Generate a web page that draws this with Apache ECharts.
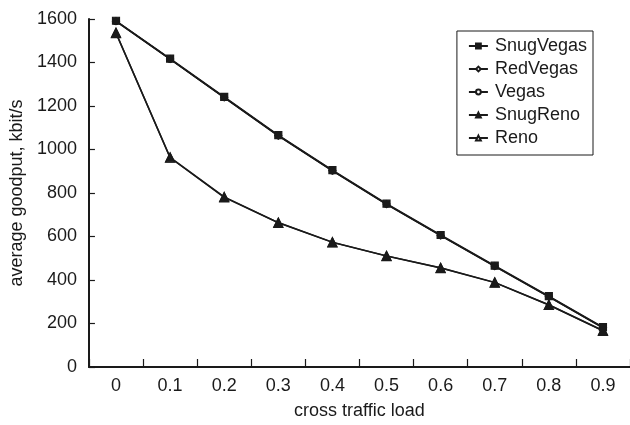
<!DOCTYPE html>
<html>
<head>
<meta charset="utf-8">
<script src="https://cdn.jsdelivr.net/npm/echarts@6/dist/echarts.min.js"></script>
<style>
  html, body { margin: 0; padding: 0; background: #fff; }
  #chart { width: 630px; height: 425px; }
</style>
</head>
<body>
<div id="chart"></div>
<script>
// cross traffic load (categories)
const loads = ['0', '0.1', '0.2', '0.3', '0.4', '0.5', '0.6', '0.7', '0.8', '0.9']

// average goodput, kbit/s
const snugVegas = [1592, 1418, 1242, 1066, 905, 751, 607, 466, 326, 183]
const redVegas  = [1590, 1416, 1240, 1064, 903, 749, 605, 464, 324, 181]
const vegas     = [1589, 1415, 1239, 1063, 902, 748, 604, 463, 323, 180]
const snugReno  = [1537, 964, 782, 664, 574, 511, 456, 389, 286, 168]
const reno      = [1535, 962, 780, 663, 573, 510, 455, 388, 285, 166]

const yTicks = [0, 200, 400, 600, 800, 1000, 1200, 1400, 1600]

const font = 'Liberation Sans, Arial, Helvetica, sans-serif'
const ink = '#1a1a1a'

var myChart = echarts.init(document.getElementById('chart'))

function line(name, data, symbol, filled, size, z) {
  return {
    name: name,
    type: 'line',
    data: data,
    symbol: symbol,
    symbolSize: size,
    showSymbol: true,
    z: z,
    lineStyle: { color: ink, width: 1.5 },
    itemStyle: {
      color: filled ? ink : '#fff',
      borderColor: ink,
      borderWidth: 1.2
    },
    emphasis: { disabled: true }
  }
}

var option = {
  animation: false,
  backgroundColor: '#fff',
  textStyle: { fontFamily: font },
  grid: { left: 86, right: 0, top: 19, bottom: 52, containLabel: false },
  legend: {
    orient: 'vertical',
    right: 37,
    top: 31,
    padding: [6, 6, 8, 11],
    itemGap: 5,
    itemWidth: 19,
    itemHeight: 6,
    borderColor: ink,
    borderWidth: 1,
    borderRadius: 0,
    textStyle: { fontSize: 18, color: ink, fontFamily: font, padding: [0, 0, 0, 2] },
    data: ['SnugVegas', 'RedVegas', 'Vegas', 'SnugReno', 'Reno']
  },
  xAxis: {
    type: 'category',
    data: loads,
    boundaryGap: true,
    name: 'cross traffic load',
    nameLocation: 'middle',
    nameGap: 35,
    nameTextStyle: { fontSize: 18, color: ink },
    axisLine: { lineStyle: { color: ink, width: 2 } },
    axisTick: { show: true, inside: true, length: 8, lineStyle: { color: ink, width: 1.2 } },
    axisLabel: { fontSize: 18, color: ink, margin: 10 },
    splitLine: { show: false }
  },
  yAxis: {
    type: 'value',
    min: 0,
    max: 1600,
    interval: 200,
    name: 'average goodput, kbit/s',
    nameLocation: 'middle',
    nameGap: 60,
    nameTextStyle: { fontSize: 18, color: ink },
    axisLine: { show: true, lineStyle: { color: ink, width: 2 } },
    axisTick: { show: true, inside: true, length: 6, lineStyle: { color: ink, width: 1.2 } },
    axisLabel: {
      fontSize: 18, color: ink, margin: 12,
      formatter: v => yTicks.includes(v) ? String(v) : ''
    },
    splitLine: { show: false }
  },
  series: [
    line('Vegas', vegas, 'circle', false, 6, 2),
    line('RedVegas', redVegas, 'diamond', false, 7, 3),
    line('SnugVegas', snugVegas, 'rect', true, 7, 4),
    line('Reno', reno, 'triangle', false, 9, 2),
    line('SnugReno', snugReno, 'triangle', true, 9, 3)
  ]
}

option && myChart.setOption(option)
</script>
</body>
</html>
